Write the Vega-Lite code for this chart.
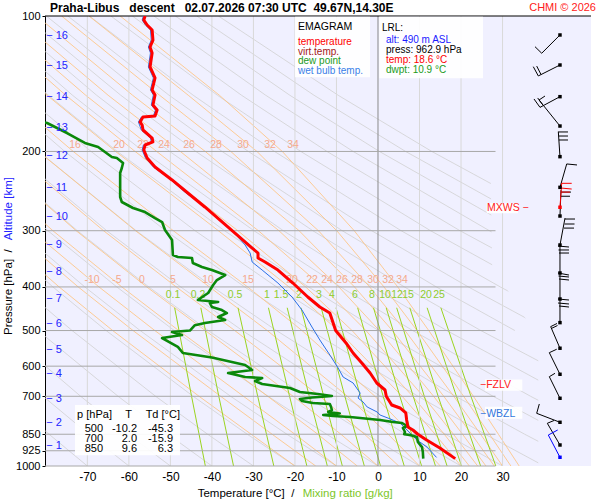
{
  "$schema": "https://vega.github.io/schema/vega-lite/v6.json",
  "width": 546,
  "height": 450,
  "autosize": {"type": "none"},
  "padding": {"left": 45, "top": 16, "right": 9, "bottom": 34},
  "background": "#ffffff",
  "config": {
    "view": {"fill": "#f0f0ff", "stroke": null},
    "font": "Liberation Sans",
    "text": {"font": "Liberation Sans"}
  },
  "encoding": {
    "x": {
      "field": "T", "type": "quantitative",
      "scale": {"domain": [-80.2, 51.3], "nice": false, "zero": false},
      "axis": {
        "values": [-70, -60, -50, -40, -30, -20, -10, 0, 10, 20, 30],
        "title": null, "grid": false, "domain": false, "ticks": false,
        "labelFontSize": 12, "labelPadding": 5, "labelFlush": false,
        "labelColor": "#000000", "labelFont": "Liberation Sans",
        "labelExpr": "datum.value < 0 ? '-' + abs(datum.value) : '' + datum.value"
      }
    },
    "y": {
      "field": "p", "type": "quantitative",
      "scale": {"type": "log", "domain": [100, 1000], "reverse": true, "nice": false},
      "axis": {
        "values": [100, 200, 300, 400, 500, 600, 700, 850, 925, 1000],
        "title": null, "grid": false, "format": "d",
        "domainColor": "#000000", "tickColor": "#000000", "tickSize": 3,
        "labelPadding": 2, "labelFontSize": 11, "labelColor": "#000000",
        "labelOverlap": false, "labelFont": "Liberation Sans"
      }
    }
  },
  "resolve": {"scale": {"color": "independent"}},
  "datasets": {
    "dry": [
      {"th":-70,"p":1000,"T":-70},{"th":-70,"p":850,"T":-79.22},{"th":-70,"p":700,"T":-89.69},
      {"th":-60,"p":1000,"T":-60},{"th":-60,"p":850,"T":-69.67},{"th":-60,"p":700,"T":-80.65},{"th":-60,"p":500,"T":-98.3},
      {"th":-50,"p":1000,"T":-50},{"th":-50,"p":850,"T":-60.13},{"th":-50,"p":700,"T":-71.62},{"th":-50,"p":500,"T":-90.09},
      {"th":-40,"p":1000,"T":-40},{"th":-40,"p":850,"T":-50.58},{"th":-40,"p":700,"T":-62.59},{"th":-40,"p":500,"T":-81.89},{"th":-40,"p":400,"T":-93.7},
      {"th":-30,"p":1000,"T":-30},{"th":-30,"p":850,"T":-41.03},{"th":-30,"p":700,"T":-53.56},{"th":-30,"p":500,"T":-73.68},{"th":-30,"p":400,"T":-86.0},
      {"th":-20,"p":1000,"T":-20},{"th":-20,"p":850,"T":-31.49},{"th":-20,"p":700,"T":-44.53},{"th":-20,"p":500,"T":-65.48},{"th":-20,"p":400,"T":-78.3},{"th":-20,"p":300,"T":-93.68},
      {"th":-10,"p":1000,"T":-10},{"th":-10,"p":850,"T":-21.94},{"th":-10,"p":700,"T":-35.5},{"th":-10,"p":500,"T":-57.28},{"th":-10,"p":400,"T":-70.61},{"th":-10,"p":300,"T":-86.6},
      {"th":0,"p":1000,"T":0},{"th":0,"p":850,"T":-12.39},{"th":0,"p":700,"T":-26.47},{"th":0,"p":500,"T":-49.07},{"th":0,"p":400,"T":-62.91},{"th":0,"p":300,"T":-79.51},{"th":0,"p":200,"T":-100.7},
      {"th":10,"p":1000,"T":10},{"th":10,"p":850,"T":-2.85},{"th":10,"p":700,"T":-17.43},{"th":10,"p":500,"T":-40.87},{"th":10,"p":400,"T":-55.21},{"th":10,"p":300,"T":-72.42},{"th":10,"p":200,"T":-94.37},
      {"th":20,"p":1000,"T":20},{"th":20,"p":850,"T":6.7},{"th":20,"p":700,"T":-8.4},{"th":20,"p":500,"T":-32.67},{"th":20,"p":400,"T":-47.51},{"th":20,"p":300,"T":-65.33},{"th":20,"p":200,"T":-88.06},
      {"th":30,"p":1000,"T":30},{"th":30,"p":850,"T":16.24},{"th":30,"p":700,"T":0.63},{"th":30,"p":500,"T":-24.46},{"th":30,"p":400,"T":-39.82},{"th":30,"p":300,"T":-58.24},{"th":30,"p":200,"T":-81.74},{"th":30,"p":150,"T":-96.84},
      {"th":40,"p":1000,"T":40},{"th":40,"p":850,"T":25.79},{"th":40,"p":700,"T":9.66},{"th":40,"p":500,"T":-16.26},{"th":40,"p":400,"T":-32.12},{"th":40,"p":300,"T":-51.15},{"th":40,"p":200,"T":-75.43},{"th":40,"p":150,"T":-91.03},
      {"th":50,"p":1000,"T":50},{"th":50,"p":850,"T":35.34},{"th":50,"p":700,"T":18.69},{"th":50,"p":500,"T":-8.05},{"th":50,"p":400,"T":-24.42},{"th":50,"p":300,"T":-44.06},{"th":50,"p":200,"T":-69.11},{"th":50,"p":150,"T":-85.21},
      {"th":60,"p":1000,"T":60},{"th":60,"p":850,"T":44.88},{"th":60,"p":700,"T":27.72},{"th":60,"p":500,"T":0.15},{"th":60,"p":400,"T":-16.73},{"th":60,"p":300,"T":-36.97},{"th":60,"p":200,"T":-62.8},{"th":60,"p":150,"T":-79.39},{"th":60,"p":100,"T":-100.6},
      {"th":70,"p":850,"T":54.43},{"th":70,"p":700,"T":36.75},{"th":70,"p":500,"T":8.35},{"th":70,"p":400,"T":-9.03},{"th":70,"p":300,"T":-29.88},{"th":70,"p":200,"T":-56.49},{"th":70,"p":150,"T":-73.58},{"th":70,"p":100,"T":-95.42},
      {"th":80,"p":700,"T":45.78},{"th":80,"p":500,"T":16.55},{"th":80,"p":400,"T":-1.33},{"th":80,"p":300,"T":-22.79},{"th":80,"p":200,"T":-50.18},{"th":80,"p":150,"T":-67.76},{"th":80,"p":100,"T":-90.24},
      {"th":90,"p":700,"T":54.81},{"th":90,"p":500,"T":24.76},{"th":90,"p":400,"T":6.36},{"th":90,"p":300,"T":-15.7},{"th":90,"p":200,"T":-43.86},{"th":90,"p":150,"T":-61.95},{"th":90,"p":100,"T":-85.06},
      {"th":100,"p":500,"T":32.96},{"th":100,"p":400,"T":14.06},{"th":100,"p":300,"T":-8.61},{"th":100,"p":200,"T":-37.55},{"th":100,"p":150,"T":-56.13},{"th":100,"p":100,"T":-79.88},
      {"th":110,"p":500,"T":41.17},{"th":110,"p":400,"T":21.76},{"th":110,"p":300,"T":-1.52},{"th":110,"p":200,"T":-31.23},{"th":110,"p":150,"T":-50.32},{"th":110,"p":100,"T":-74.7},
      {"th":120,"p":500,"T":49.37},{"th":120,"p":400,"T":29.45},{"th":120,"p":300,"T":5.57},{"th":120,"p":200,"T":-24.92},{"th":120,"p":150,"T":-44.5},{"th":120,"p":100,"T":-69.52},
      {"th":130,"p":400,"T":37.15},{"th":130,"p":300,"T":12.66},{"th":130,"p":200,"T":-18.6},{"th":130,"p":150,"T":-38.68},{"th":130,"p":100,"T":-64.34},
      {"th":140,"p":400,"T":44.85},{"th":140,"p":300,"T":19.75},{"th":140,"p":200,"T":-12.29},{"th":140,"p":150,"T":-32.87},{"th":140,"p":100,"T":-59.16},
      {"th":150,"p":400,"T":52.54},{"th":150,"p":300,"T":26.83},{"th":150,"p":200,"T":-5.98},{"th":150,"p":150,"T":-27.05},{"th":150,"p":100,"T":-53.98},
      {"th":160,"p":300,"T":33.92},{"th":160,"p":200,"T":0.34},{"th":160,"p":150,"T":-21.24},{"th":160,"p":100,"T":-48.8},
      {"th":170,"p":300,"T":41.01},{"th":170,"p":200,"T":6.65},{"th":170,"p":150,"T":-15.42},{"th":170,"p":100,"T":-43.62},
      {"th":180,"p":300,"T":48.1},{"th":180,"p":200,"T":12.96},{"th":180,"p":150,"T":-9.6},{"th":180,"p":100,"T":-38.44}
    ],
    "moist": [
      {"tw":34,"p":1000,"T":34},{"tw":34,"p":850,"T":29.0},{"tw":34,"p":700,"T":22.98},{"tw":34,"p":500,"T":12.22},{"tw":34,"p":400,"T":4.75},{"tw":34,"p":300,"T":-5.72},{"tw":34,"p":200,"T":-23.05},{"tw":34,"p":150,"T":-38.2},{"tw":34,"p":100,"T":-62.1},
      {"tw":32,"p":1000,"T":32},{"tw":32,"p":850,"T":26.86},{"tw":32,"p":700,"T":20.62},{"tw":32,"p":500,"T":9.4},{"tw":32,"p":400,"T":1.44},{"tw":32,"p":300,"T":-9.93},{"tw":32,"p":200,"T":-29.15},{"tw":32,"p":150,"T":-45.7},{"tw":32,"p":100,"T":-69.6},
      {"tw":30,"p":1000,"T":30},{"tw":30,"p":850,"T":24.7},{"tw":30,"p":700,"T":18.25},{"tw":30,"p":500,"T":6.51},{"tw":30,"p":400,"T":-2.0},{"tw":30,"p":300,"T":-14.35},{"tw":30,"p":200,"T":-35.45},{"tw":30,"p":150,"T":-52.6},{"tw":30,"p":100,"T":-76.2},
      {"tw":28,"p":1000,"T":28},{"tw":28,"p":850,"T":22.54},{"tw":28,"p":700,"T":15.84},{"tw":28,"p":500,"T":3.44},{"tw":28,"p":400,"T":-5.66},{"tw":28,"p":300,"T":-19.0},{"tw":28,"p":200,"T":-41.6},{"tw":28,"p":150,"T":-59.1},{"tw":28,"p":100,"T":-82.2},
      {"tw":26,"p":1000,"T":26},{"tw":26,"p":850,"T":20.36},{"tw":26,"p":700,"T":13.4},{"tw":26,"p":500,"T":0.32},{"tw":26,"p":400,"T":-9.42},{"tw":26,"p":300,"T":-23.85},{"tw":26,"p":200,"T":-47.6},{"tw":26,"p":150,"T":-65.0},{"tw":26,"p":100,"T":-87.6},
      {"tw":24,"p":1000,"T":24},{"tw":24,"p":850,"T":18.17},{"tw":24,"p":700,"T":10.9},{"tw":24,"p":500,"T":-2.9},{"tw":24,"p":400,"T":-13.36},{"tw":24,"p":300,"T":-28.8},{"tw":24,"p":200,"T":-53.3},{"tw":24,"p":150,"T":-70.4},{"tw":24,"p":100,"T":-92.5},
      {"tw":22,"p":1000,"T":22},{"tw":22,"p":850,"T":15.96},{"tw":22,"p":700,"T":8.34},{"tw":22,"p":500,"T":-6.25},{"tw":22,"p":400,"T":-17.42},{"tw":22,"p":300,"T":-33.75},{"tw":22,"p":200,"T":-58.5},{"tw":22,"p":150,"T":-75.2},{"tw":22,"p":100,"T":-97},
      {"tw":20,"p":1000,"T":20},{"tw":20,"p":850,"T":13.75},{"tw":20,"p":700,"T":5.82},{"tw":20,"p":500,"T":-9.62},{"tw":20,"p":400,"T":-21.42},{"tw":20,"p":300,"T":-38.45},{"tw":20,"p":200,"T":-63.2},{"tw":20,"p":150,"T":-79.7},{"tw":20,"p":100,"T":-101},
      {"tw":15,"p":1000,"T":15},{"tw":15,"p":850,"T":8.05},{"tw":15,"p":700,"T":-0.73},{"tw":15,"p":500,"T":-18.3},{"tw":15,"p":400,"T":-31.4},{"tw":15,"p":300,"T":-49.3},{"tw":15,"p":200,"T":-73.4},{"tw":15,"p":150,"T":-89.2},
      {"tw":10,"p":1000,"T":10},{"tw":10,"p":850,"T":2.45},{"tw":10,"p":700,"T":-7.37},{"tw":10,"p":500,"T":-26.67},{"tw":10,"p":400,"T":-40.6},{"tw":10,"p":300,"T":-58.4},{"tw":10,"p":200,"T":-81.8},
      {"tw":5,"p":1000,"T":5},{"tw":5,"p":850,"T":-3.24},{"tw":5,"p":700,"T":-14.0},{"tw":5,"p":500,"T":-34.5},{"tw":5,"p":400,"T":-48.6},{"tw":5,"p":300,"T":-66.1},{"tw":5,"p":200,"T":-88.7},
      {"tw":0,"p":1000,"T":0},{"tw":0,"p":850,"T":-8.93},{"tw":0,"p":700,"T":-20.44},{"tw":0,"p":500,"T":-41.6},{"tw":0,"p":400,"T":-55.7},{"tw":0,"p":300,"T":-72.7},{"tw":0,"p":200,"T":-94.6},
      {"tw":-5,"p":1000,"T":-5},{"tw":-5,"p":850,"T":-14.5},{"tw":-5,"p":700,"T":-26.55},{"tw":-5,"p":500,"T":-48.0},{"tw":-5,"p":400,"T":-61.7},{"tw":-5,"p":300,"T":-78.3},{"tw":-5,"p":200,"T":-99.6},
      {"tw":-10,"p":1000,"T":-10},{"tw":-10,"p":850,"T":-20.0},{"tw":-10,"p":700,"T":-32.4},{"tw":-10,"p":500,"T":-53.75},{"tw":-10,"p":400,"T":-67.2},{"tw":-10,"p":300,"T":-83.4},
      {"tw":-15,"p":1000,"T":-15},{"tw":-15,"p":850,"T":-25.5},{"tw":-15,"p":700,"T":-37.9},{"tw":-15,"p":500,"T":-59.0},{"tw":-15,"p":400,"T":-72.2},{"tw":-15,"p":300,"T":-88},
      {"tw":-20,"p":1000,"T":-20},{"tw":-20,"p":850,"T":-30.55},{"tw":-20,"p":700,"T":-43.1},{"tw":-20,"p":500,"T":-63.9},{"tw":-20,"p":400,"T":-76.8},{"tw":-20,"p":300,"T":-92.3}
    ],
    "mix": [
      {"w":0.1,"p":1000,"T":-41.58},{"w":0.1,"p":700,"T":-44.9},{"w":0.1,"p":445,"T":-48.97},
      {"w":0.2,"p":1000,"T":-34.79},{"w":0.2,"p":700,"T":-38.34},{"w":0.2,"p":445,"T":-42.67},
      {"w":0.5,"p":1000,"T":-25.09},{"w":0.5,"p":700,"T":-28.97},{"w":0.5,"p":445,"T":-33.71},
      {"w":1,"p":1000,"T":-17.13},{"w":1,"p":700,"T":-21.3},{"w":1,"p":445,"T":-26.38},
      {"w":1.5,"p":1000,"T":-12.2},{"w":1.5,"p":700,"T":-16.56},{"w":1.5,"p":445,"T":-21.87},
      {"w":2,"p":1000,"T":-8.58},{"w":2,"p":700,"T":-13.07},{"w":2,"p":445,"T":-18.55},
      {"w":3,"p":1000,"T":-3.29},{"w":3,"p":700,"T":-7.98},{"w":3,"p":445,"T":-13.68},
      {"w":4,"p":1000,"T":0.61},{"w":4,"p":700,"T":-4.23},{"w":4,"p":445,"T":-10.11},
      {"w":6,"p":1000,"T":6.32},{"w":6,"p":700,"T":1.25},{"w":6,"p":445,"T":-4.9},
      {"w":8,"p":1000,"T":10.51},{"w":8,"p":700,"T":5.27},{"w":8,"p":445,"T":-1.08},
      {"w":10,"p":1000,"T":13.85},{"w":10,"p":700,"T":8.48},{"w":10,"p":445,"T":1.97},
      {"w":12,"p":1000,"T":16.64},{"w":12,"p":700,"T":11.15},{"w":12,"p":445,"T":4.5},
      {"w":15,"p":1000,"T":20.12},{"w":15,"p":700,"T":14.49},{"w":15,"p":445,"T":7.66},
      {"w":20,"p":1000,"T":24.72},{"w":20,"p":700,"T":18.89},{"w":20,"p":445,"T":11.83},
      {"w":25,"p":1000,"T":28.37},{"w":25,"p":700,"T":22.38},{"w":25,"p":445,"T":15.14}
    ],
    "mask": [
      {"p":100,"T":26.5},{"p":360,"T":27.5},{"p":520,"T":38.6},{"p":1000,"T":38.6}
    ],
    "isotherms": [
      {"T":-70,"p":100},{"T":-70,"p":1000},{"T":-60,"p":100},{"T":-60,"p":1000},
      {"T":-50,"p":100},{"T":-50,"p":1000},{"T":-40,"p":100},{"T":-40,"p":1000},
      {"T":-30,"p":100},{"T":-30,"p":1000},{"T":-20,"p":100},{"T":-20,"p":1000},
      {"T":-10,"p":100},{"T":-10,"p":1000},{"T":10,"p":100},{"T":10,"p":1000},
      {"T":20,"p":100},{"T":20,"p":1000},{"T":30,"p":100},{"T":30,"p":1000}
    ],
    "zeroline": [
      {"T":0,"p":100},{"T":0,"p":1000}
    ],
    "isobars": [
      {"p":200,"T":-80.2},{"p":200,"T":28.3},{"p":300,"T":-80.2},{"p":300,"T":28.3},
      {"p":400,"T":-80.2},{"p":400,"T":28.3},{"p":500,"T":-80.2},{"p":500,"T":28.3},
      {"p":600,"T":-80.2},{"p":600,"T":28.3},{"p":700,"T":-80.2},{"p":700,"T":28.3},
      {"p":850,"T":-80.2},{"p":850,"T":28.3},{"p":925,"T":-80.2},{"p":925,"T":28.3},
      {"p":1000,"T":-80.2},{"p":1000,"T":28.3}
    ],
    "topline": [
      {"p":100,"T":-80.2},{"p":100,"T":51.3}
    ],
    "moistLab": [
      {"lab":"16","p":193.5,"T":-72.98},{"lab":"20","p":193.5,"T":-62.38},{"lab":"22","p":193.5,"T":-56.6},
      {"lab":"24","p":193.5,"T":-51.54},{"lab":"26","p":193.5,"T":-45.52},{"lab":"28","p":193.5,"T":-39.02},
      {"lab":"30","p":193.5,"T":-32.51},{"lab":"32","p":193.5,"T":-26.01},{"lab":"34","p":193.5,"T":-20.47},
      {"lab":"-10","p":386.1,"T":-68.88},{"lab":"-5","p":386.1,"T":-62.86},{"lab":"0","p":386.1,"T":-56.84},
      {"lab":"5","p":386.1,"T":-49.37},{"lab":"10","p":386.1,"T":-40.94},{"lab":"15","p":386.1,"T":-31.31},
      {"lab":"20","p":386.1,"T":-20.71},{"lab":"22","p":386.1,"T":-15.9},{"lab":"24","p":386.1,"T":-12.28},
      {"lab":"26","p":386.1,"T":-8.67},{"lab":"28","p":386.1,"T":-5.06},{"lab":"30","p":386.1,"T":-1.2},
      {"lab":"32","p":386.1,"T":2.41},{"lab":"34","p":386.1,"T":5.78}
    ],
    "mixLab": [
      {"lab":"0.1","p":417,"T":-49.37},{"lab":"0.2","p":417,"T":-43.35},{"lab":"0.5","p":417,"T":-34.44},
      {"lab":"1","p":417,"T":-26.73},{"lab":"1.5","p":417,"T":-23.36},{"lab":"2","p":417,"T":-19.03},
      {"lab":"3","p":417,"T":-14.21},{"lab":"4","p":417,"T":-11.08},{"lab":"6","p":417,"T":-5.54},
      {"lab":"8","p":417,"T":-1.45},{"lab":"10","p":417,"T":1.69},{"lab":"12","p":417,"T":4.58},
      {"lab":"15","p":417,"T":7.23},{"lab":"20","p":417,"T":11.56},{"lab":"25","p":417,"T":14.69}
    ],
    "boxes": [
      {"box":"emagram","T":-19.99,"T2":-1.93,"p":100.4,"p2":136.8},
      {"box":"lrl","T":0.3,"T2":25.3,"p":100.4,"p2":137.5},
      {"box":"table","T":-72.98,"T2":-47.69,"p":731.8,"p2":946.3},
      {"box":"fzlv","T":25.77,"T2":34.75,"p":642.7,"p2":680.3},
      {"box":"wbzl","T":25.77,"T2":34.75,"p":738.3,"p2":785.2},
      {"box":"mxws","T":26.18,"T2":33.72,"p":260.8,"p2":274.4}
    ],
    "temp": [
      {"p":962.9,"T":18.6},{"p":912.0,"T":14.9},{"p":875.5,"T":11.7},{"p":850,"T":9.6},{"p":831.8,"T":8.4},
      {"p":819.2,"T":7.2},{"p":790.3,"T":6.9},{"p":762.4,"T":6.7},{"p":743.1,"T":5.3},{"p":731.8,"T":3.3},
      {"p":700,"T":2.0},{"p":677.8,"T":1.7},{"p":653.9,"T":-0.3},{"p":621.3,"T":-1.9},{"p":590.3,"T":-3.9},
      {"p":560.9,"T":-6.0},{"p":532.8,"T":-7.7},{"p":500,"T":-10.2},{"p":457.1,"T":-11.6},{"p":443.3,"T":-14.0},
      {"p":421.2,"T":-16.9},{"p":392.1,"T":-20.5},{"p":366.9,"T":-24.1},{"p":352.2,"T":-27.2},{"p":345.0,"T":-28.9},
      {"p":336.3,"T":-28.9},{"p":327.9,"T":-30.3},{"p":294.4,"T":-36.1},{"p":265.7,"T":-41.7},{"p":247.4,"T":-45.8},
      {"p":231.4,"T":-49.6},{"p":216.5,"T":-53.7},{"p":206.8,"T":-55.6},{"p":198.5,"T":-56.4},{"p":193.5,"T":-56.1},
      {"p":190.5,"T":-54.2},{"p":186.7,"T":-54.4},{"p":179.2,"T":-56.6},{"p":174.7,"T":-56.8},{"p":172.0,"T":-57.3},
      {"p":167.7,"T":-56.6},{"p":166.8,"T":-53.7},{"p":161.8,"T":-53.2},{"p":157.7,"T":-54.2},{"p":149.8,"T":-53.7},
      {"p":146.0,"T":-54.4},{"p":137.3,"T":-53.7},{"p":129.8,"T":-54.9},{"p":120.8,"T":-54.4},{"p":117.2,"T":-54.9},
      {"p":113.1,"T":-54.2},{"p":107.4,"T":-54.4},{"p":104.7,"T":-55.6},{"p":102.1,"T":-56.4},{"p":100,"T":-56.1}
    ],
    "wet": [
      {"p":957,"T":14.1},{"p":907.8,"T":11.8},{"p":875.5,"T":9.4},{"p":844.9,"T":7.7},{"p":802.5,"T":5.3},
      {"p":782.4,"T":2.4},{"p":770.4,"T":0.5},{"p":758.6,"T":-0.2},{"p":739.4,"T":-2.6},{"p":720.7,"T":-3.6},
      {"p":706.3,"T":-4.8},{"p":688.3,"T":-4.3},{"p":653.9,"T":-6.0},{"p":634.2,"T":-8.4},{"p":605.6,"T":-9.6},
      {"p":566.7,"T":-11.6},{"p":524.8,"T":-14.0},{"p":491.1,"T":-15.9},{"p":450.3,"T":-18.3},{"p":421.2,"T":-20.7},
      {"p":392.1,"T":-24.1},{"p":366.9,"T":-27.9},{"p":352.2,"T":-30.3},{"p":336.3,"T":-30.8},{"p":322.8,"T":-32.0},
      {"p":299.0,"T":-35.2},{"p":281.2,"T":-38.5},{"p":263.0,"T":-42.4},{"p":246.2,"T":-46.5},{"p":230.3,"T":-50.1},
      {"p":216.5,"T":-54.1},{"p":206.8,"T":-56.0},{"p":198.5,"T":-56.8},{"p":193.5,"T":-56.5},{"p":190.5,"T":-54.6},
      {"p":186.7,"T":-54.8},{"p":179.2,"T":-57.0},{"p":172.0,"T":-57.7},{"p":167.7,"T":-57.0},{"p":166.8,"T":-54.1},
      {"p":161.8,"T":-53.6},{"p":157.7,"T":-54.6},{"p":149.8,"T":-54.1},{"p":146.0,"T":-54.8},{"p":137.3,"T":-54.1},
      {"p":129.8,"T":-55.3},{"p":120.8,"T":-54.8},{"p":117.2,"T":-55.3},{"p":113.1,"T":-54.6},{"p":107.4,"T":-54.8},
      {"p":104.7,"T":-56.0},{"p":102.1,"T":-56.8},{"p":100,"T":-56.5}
    ],
    "dew": [
      {"p":962.9,"T":10.9},{"p":930.8,"T":10.8},{"p":907.8,"T":10.6},{"p":884.5,"T":9.6},{"p":862.3,"T":9.4},
      {"p":853.4,"T":7.7},{"p":850,"T":6.3},{"p":840.3,"T":6.5},{"p":823.3,"T":6.0},{"p":814.9,"T":7.0},
      {"p":802.5,"T":5.8},{"p":798.4,"T":3.6},{"p":790.3,"T":0.5},{"p":784.4,"T":-3.1},{"p":778.4,"T":-6.7},
      {"p":774.4,"T":-10.8},{"p":770.4,"T":-13.2},{"p":764.5,"T":-9.2},{"p":758.6,"T":-12.0},{"p":751.0,"T":-11.1},
      {"p":739.4,"T":-11.3},{"p":728.1,"T":-11.6},{"p":724.4,"T":-15.7},{"p":717.1,"T":-18.3},{"p":709.8,"T":-18.8},
      {"p":704.4,"T":-15.9},{"p":699.0,"T":-11.1},{"p":691.8,"T":-14.5},{"p":684.8,"T":-18.8},{"p":670.9,"T":-21.2},
      {"p":657.2,"T":-27.9},{"p":647.3,"T":-29.6},{"p":637.4,"T":-27.9},{"p":634.2,"T":-32.0},{"p":621.3,"T":-36.1},
      {"p":611.9,"T":-30.3},{"p":596.5,"T":-32.0},{"p":574.0,"T":-40.0},{"p":560.9,"T":-47.0},{"p":543.8,"T":-48.2},
      {"p":519.6,"T":-52.0},{"p":511.6,"T":-47.2},{"p":503.8,"T":-49.6},{"p":500,"T":-45.3},{"p":486.5,"T":-44.1},
      {"p":481.0,"T":-41.7},{"p":473.7,"T":-36.8},{"p":466.5,"T":-38.5},{"p":457.1,"T":-36.4},{"p":450.3,"T":-37.6},
      {"p":443.3,"T":-40.0},{"p":434.3,"T":-40.5},{"p":432.1,"T":-38.5},{"p":427.7,"T":-43.4},{"p":412.6,"T":-40.9},
      {"p":396.1,"T":-39.7},{"p":386.1,"T":-38.8},{"p":376.4,"T":-36.8},{"p":366.9,"T":-40.0},{"p":361.3,"T":-42.4},
      {"p":353.9,"T":-44.6},{"p":345.0,"T":-44.8},{"p":343.2,"T":-48.2},{"p":339.8,"T":-49.4},{"p":314.7,"T":-49.6},
      {"p":299.0,"T":-51.3},{"p":287.0,"T":-52.0},{"p":281.2,"T":-53.7},{"p":272.7,"T":-56.1},{"p":267.1,"T":-59.0},
      {"p":259.0,"T":-61.7},{"p":252.5,"T":-62.1},{"p":237.5,"T":-62.1},{"p":223.3,"T":-62.1},{"p":217.7,"T":-61.7},
      {"p":212.1,"T":-61.4},{"p":206.8,"T":-62.9},{"p":205.7,"T":-64.1},{"p":195.5,"T":-67.4},{"p":191.5,"T":-70.6},
      {"p":182.0,"T":-74.9},{"p":172.9,"T":-79.7},{"p":170.5,"T":-82.6}
    ],
    "alt": [
      {"txt":"− 1","p":902.7,"T":-79.9},{"txt":"− 2","p":802.6,"T":-79.9},{"txt":"− 3","p":710,"T":-79.9},
      {"txt":"− 4","p":624.6,"T":-79.9},{"txt":"− 5","p":552.4,"T":-79.9},{"txt":"− 6","p":483.6,"T":-79.9},
      {"txt":"− 7","p":425.5,"T":-79.9},{"txt":"− 8","p":370.6,"T":-79.9},{"txt":"− 9","p":322.8,"T":-79.9},
      {"txt":"− 10","p":279.7,"T":-79.9},{"txt":"− 11","p":241,"T":-79.9},{"txt":"− 12","p":205,"T":-79.9},
      {"txt":"− 13","p":177,"T":-79.9},{"txt":"− 14","p":151.6,"T":-79.9},{"txt":"− 15","p":129.3,"T":-79.9},
      {"txt":"− 16","p":110.8,"T":-79.9}
    ],
    "barbs": [
      {"T":43.83,"p":110.2,"T2":39.43,"p2":121.0,"s":"wind"},
      {"T":39.43,"p":121.0,"T2":37.81,"p2":117.0,"s":"wind"},
      {"T":43.83,"p":128.5,"T2":38.61,"p2":135.9,"s":"wind"},
      {"T":38.61,"p":135.9,"T2":37.40,"p2":129.6,"s":"wind"},
      {"T":39.26,"p":134.9,"T2":38.22,"p2":129.2,"s":"wind"},
      {"T":43.83,"p":151.1,"T2":39.02,"p2":159.6,"s":"wind"},
      {"T":39.02,"p":159.6,"T2":37.57,"p2":152.9,"s":"wind"},
      {"T":39.81,"p":158.1,"T2":38.46,"p2":152.1,"s":"wind"},
      {"T":43.83,"p":175.6,"T2":38.78,"p2":153.7,"s":"wind"},
      {"T":38.78,"p":153.7,"T2":40.22,"p2":150.6,"s":"wind"},
      {"T":43.83,"p":205.4,"T2":43.43,"p2":180.7,"s":"wind"},
      {"T":43.43,"p":181.0,"T2":45.76,"p2":181.0,"s":"wind"},
      {"T":43.5,"p":184.8,"T2":45.76,"p2":184.8,"s":"wind"},
      {"T":43.57,"p":188.6,"T2":45.76,"p2":188.6,"s":"wind"},
      {"T":43.83,"p":240.3,"T2":45.45,"p2":213.2,"s":"wind"},
      {"T":45.45,"p":213.2,"T2":47.93,"p2":214.3,"s":"wind"},
      {"T":43.83,"p":278.3,"T2":44.07,"p2":243.7,"s":"wind"},
      {"T":44.07,"p":246.2,"T2":46.48,"p2":246.2,"s":"wind"},
      {"T":44.0,"p":251.5,"T2":46.24,"p2":251.5,"s":"wind"},
      {"T":43.83,"p":266.1,"T2":44.24,"p2":235.4,"s":"max"},
      {"T":44.24,"p":235.4,"T2":46.65,"p2":235.4,"s":"max"},
      {"T":44.17,"p":241.2,"T2":46.65,"p2":242.4,"s":"max"},
      {"T":44.12,"p":246.2,"T2":46.24,"p2":246.2,"s":"max"},
      {"T":43.83,"p":322.8,"T2":45.04,"p2":281.2,"s":"wind"},
      {"T":45.04,"p":282.6,"T2":47.45,"p2":282.6,"s":"wind"},
      {"T":44.92,"p":289.9,"T2":47.33,"p2":289.9,"s":"wind"},
      {"T":44.8,"p":296.0,"T2":47.21,"p2":296.0,"s":"wind"},
      {"T":43.83,"p":372.5,"T2":43.83,"p2":322.8,"s":"wind"},
      {"T":43.35,"p":324.5,"T2":46.0,"p2":326.1,"s":"wind"},
      {"T":43.47,"p":331.1,"T2":46.0,"p2":331.1,"s":"wind"},
      {"T":43.59,"p":336.3,"T2":46.0,"p2":336.3,"s":"wind"},
      {"T":43.83,"p":425.5,"T2":43.83,"p2":372.5,"s":"wind"},
      {"T":43.35,"p":372.5,"T2":46.0,"p2":376.4,"s":"wind"},
      {"T":43.47,"p":378.3,"T2":46.0,"p2":380.2,"s":"wind"},
      {"T":43.59,"p":384.1,"T2":46.0,"p2":386.1,"s":"wind"},
      {"T":43.83,"p":480.2,"T2":43.83,"p2":425.5,"s":"wind"},
      {"T":43.35,"p":425.5,"T2":46.0,"p2":427.7,"s":"wind"},
      {"T":43.35,"p":434.3,"T2":46.0,"p2":436.5,"s":"wind"},
      {"T":43.59,"p":441.0,"T2":46.0,"p2":443.3,"s":"wind"},
      {"T":43.83,"p":547.4,"T2":41.59,"p2":490.1,"s":"wind"},
      {"T":41.59,"p":490.1,"T2":43.11,"p2":482.3,"s":"wind"},
      {"T":41.79,"p":494.6,"T2":43.23,"p2":487.3,"s":"wind"},
      {"T":43.83,"p":625.4,"T2":41.26,"p2":560.0,"s":"wind"},
      {"T":41.26,"p":560.0,"T2":43.04,"p2":550.2,"s":"wind"},
      {"T":43.83,"p":707.2,"T2":41.26,"p2":633.2,"s":"wind"},
      {"T":41.26,"p":633.2,"T2":42.63,"p2":622.3,"s":"wind"},
      {"T":43.83,"p":799.6,"T2":38.22,"p2":763.7,"s":"wind"},
      {"T":38.22,"p":763.7,"T2":38.85,"p2":728.1,"s":"wind"},
      {"T":43.83,"p":898.1,"T2":40.78,"p2":803.7,"s":"wind"},
      {"T":40.78,"p":803.7,"T2":42.39,"p2":792.3,"s":"wind"},
      {"T":43.83,"p":956.4,"T2":41.02,"p2":853.4,"s":"sfc"},
      {"T":41.02,"p":853.4,"T2":43.28,"p2":831.8,"s":"sfc"}
    ],
    "dots": [
      {"T":43.83,"p":110.2,"s":"wind"},{"T":43.83,"p":128.5,"s":"wind"},{"T":43.83,"p":151.1,"s":"wind"},
      {"T":43.83,"p":175.6,"s":"wind"},{"T":43.83,"p":205.4,"s":"wind"},{"T":43.83,"p":240.3,"s":"wind"},
      {"T":43.83,"p":278.3,"s":"wind"},{"T":43.83,"p":266.1,"s":"max"},{"T":43.83,"p":322.8,"s":"wind"},
      {"T":43.83,"p":372.5,"s":"wind"},{"T":43.83,"p":425.5,"s":"wind"},{"T":43.83,"p":480.2,"s":"wind"},
      {"T":43.83,"p":547.4,"s":"wind"},{"T":43.83,"p":625.4,"s":"wind"},{"T":43.83,"p":707.2,"s":"wind"},
      {"T":43.83,"p":799.6,"s":"wind"},{"T":43.83,"p":898.1,"s":"wind"},{"T":43.83,"p":956.4,"s":"sfc"}
    ],
    "legend": [
      {"txt":"temperature","T":-19.27,"p":116.0,"s":"temp"},
      {"txt":"virt.temp.","T":-19.27,"p":122.1,"s":"virt"},
      {"txt":"dew point","T":-19.27,"p":128.0,"s":"dew"},
      {"txt":"wet bulb temp.","T":-19.27,"p":134.5,"s":"wet"},
      {"txt":"LRL:","T":0.96,"p":107.8,"s":"info"},
      {"txt":"alt: 490 m ASL","T":1.93,"p":115.0,"s":"alt"},
      {"txt":"press: 962.9 hPa","T":1.93,"p":121.0,"s":"info"},
      {"txt":"temp: 18.6 °C","T":1.93,"p":127.4,"s":"temp"},
      {"txt":"dwpt: 10.9 °C","T":1.93,"p":133.6,"s":"dew"}
    ],
    "heading": [
      {"txt":"EMAGRAM","T":-19.27,"p":107.4}
    ],
    "table": [
      {"txt":"p [hPa]","T":-64.07,"p":782.0},{"txt":"T","T":-59.25,"p":782.0},{"txt":"Td [°C]","T":-47.69,"p":782.0},
      {"txt":"500","T":-66.23,"p":838.8},{"txt":"-10.2","T":-58.04,"p":838.8},{"txt":"-45.3","T":-49.37,"p":838.8},
      {"txt":"700","T":-66.23,"p":883.1},{"txt":"2.0","T":-58.04,"p":883.1},{"txt":"-15.9","T":-49.37,"p":883.1},
      {"txt":"850","T":-66.23,"p":932.3},{"txt":"9.6","T":-58.04,"p":932.3},{"txt":"6.3","T":-49.37,"p":932.3}
    ],
    "levels": [
      {"txt":"−FZLV","T":24.57,"p":660.2,"s":"fz"},
      {"txt":"−WBZL","T":24.57,"p":766.3,"s":"wb"},
      {"txt":"MXWS −","T":26.25,"p":267.1,"s":"fz"}
    ],
    "title": [
      {"txt":"Praha-Libus\u00a0\u00a0 descent\u00a0\u00a0 02.07.2026 07:30 UTC\u00a0 49.67N,14.30E","T":-79.0,"p":97.82}
    ],
    "credit": [
      {"txt":"CHMI © 2026","T":52.5,"p":97.6}
    ],
    "xtitle": [
      {"txt":"Temperature [°C]\u00a0 /","T":-43.42,"p":1170.3,"s":"info"},
      {"txt":"Mixing ratio [g/kg]","T":-18.14,"p":1170.3,"s":"mix"}
    ],
    "ytitleA": [
      {"txt":"Pressure [hPa]\u00a0 /","T":-88.87,"p":511.4}
    ],
    "ytitleB": [
      {"txt":"Altitude [km]","T":-88.87,"p":228.0}
    ]
  },
  "layer": [
    {
      "data": {"name": "dry"},
      "mark": {"type": "line", "clip": true, "color": "#d0d0d0", "strokeWidth": 0.8},
      "encoding": {"detail": {"field": "th"}, "order": {"field": "p", "type": "quantitative", "sort": "descending"}}
    },
    {
      "data": {"name": "moist"},
      "mark": {"type": "line", "clip": true, "color": "#ffc27a", "strokeWidth": 0.8},
      "encoding": {"detail": {"field": "tw"}, "order": {"field": "p", "type": "quantitative", "sort": "descending"}}
    },
    {
      "data": {"name": "mix"},
      "mark": {"type": "line", "clip": true, "color": "#9bd420", "strokeWidth": 1},
      "encoding": {"detail": {"field": "w"}, "order": {"field": "p", "type": "quantitative", "sort": "descending"}}
    },
    {
      "data": {"name": "mask"},
      "mark": {"type": "area", "orient": "horizontal", "clip": true, "color": "#f0f0ff"},
      "encoding": {"x2": {"datum": 51.3}}
    },
    {
      "data": {"name": "isotherms"},
      "mark": {"type": "line", "color": "#d9d9d9", "strokeWidth": 1},
      "encoding": {"detail": {"field": "T"}, "order": {"field": "p", "type": "quantitative", "sort": "descending"}}
    },
    {
      "data": {"name": "zeroline"},
      "mark": {"type": "line", "color": "#8a8a8a", "strokeWidth": 1},
      "encoding": {"order": {"field": "p", "type": "quantitative", "sort": "descending"}}
    },
    {
      "data": {"name": "isobars"},
      "mark": {"type": "line", "color": "#a8a8a8", "strokeWidth": 1},
      "encoding": {"detail": {"field": "p"}}
    },
    {
      "data": {"name": "topline"},
      "mark": {"type": "line", "color": "#000000", "strokeWidth": 1},
      "encoding": {}
    },
    {
      "data": {"name": "moistLab"},
      "mark": {"type": "text", "color": "#f5a98c", "fontSize": 10.5, "align": "center", "baseline": "middle"},
      "encoding": {"text": {"field": "lab"}}
    },
    {
      "data": {"name": "mixLab"},
      "mark": {"type": "text", "color": "#8fcc2e", "fontSize": 10.5, "align": "center", "baseline": "middle"},
      "encoding": {"text": {"field": "lab"}}
    },
    {
      "data": {"name": "boxes"},
      "mark": {"type": "rect", "color": "#ffffff", "opacity": 0.92},
      "encoding": {"x2": {"field": "T2"}, "y2": {"field": "p2"}}
    },
    {
      "data": {"name": "wet"},
      "mark": {"type": "line", "clip": true, "color": "#2a6fe6", "strokeWidth": 1},
      "encoding": {"order": {"field": "p", "type": "quantitative", "sort": "descending"}}
    },
    {
      "data": {"name": "dew"},
      "mark": {"type": "line", "clip": true, "color": "#0a880a", "strokeWidth": 2.6, "strokeJoin": "round"},
      "encoding": {"order": {"field": "p", "type": "quantitative", "sort": "descending"}}
    },
    {
      "data": {"name": "temp"},
      "mark": {"type": "line", "clip": true, "color": "#ff0000", "strokeWidth": 3, "strokeJoin": "round"},
      "encoding": {"order": {"field": "p", "type": "quantitative", "sort": "descending"}}
    },
    {
      "data": {"name": "heading"},
      "mark": {"type": "text", "color": "#000000", "fontSize": 10.5, "align": "left", "baseline": "alphabetic"},
      "encoding": {"text": {"field": "txt"}}
    },
    {
      "data": {"name": "legend"},
      "mark": {"type": "text", "fontSize": 10, "align": "left", "baseline": "alphabetic"},
      "encoding": {
        "text": {"field": "txt"},
        "color": {
          "field": "s", "type": "nominal", "legend": null,
          "scale": {"domain": ["temp", "virt", "dew", "wet", "info", "alt"], "range": ["#ff0000", "#a31818", "#1a9a1a", "#3a80e8", "#000000", "#1a1aff"]}
        }
      }
    },
    {
      "data": {"name": "table"},
      "mark": {"type": "text", "color": "#000000", "fontSize": 11, "align": "right", "baseline": "alphabetic"},
      "encoding": {"text": {"field": "txt"}}
    },
    {
      "data": {"name": "levels"},
      "mark": {"type": "text", "fontSize": 10.5, "align": "left", "baseline": "middle"},
      "encoding": {
        "text": {"field": "txt"},
        "color": {
          "field": "s", "type": "nominal", "legend": null,
          "scale": {"domain": ["fz", "wb"], "range": ["#ff2020", "#3377dd"]}
        }
      }
    },
    {
      "data": {"name": "barbs"},
      "mark": {"type": "rule", "strokeWidth": 1},
      "encoding": {
        "x2": {"field": "T2"},
        "y2": {"field": "p2"},
        "color": {
          "field": "s", "type": "nominal", "legend": null,
          "scale": {"domain": ["wind", "max", "sfc"], "range": ["#000000", "#ff0000", "#0000ff"]}
        }
      }
    },
    {
      "data": {"name": "dots"},
      "mark": {"type": "point", "shape": "square", "filled": true, "size": 12, "opacity": 1},
      "encoding": {
        "color": {
          "field": "s", "type": "nominal", "legend": null,
          "scale": {"domain": ["wind", "max", "sfc"], "range": ["#000000", "#ff0000", "#0000ff"]}
        }
      }
    },
    {
      "data": {"name": "alt"},
      "mark": {"type": "text", "color": "#2424ff", "fontSize": 11, "align": "left", "baseline": "middle"},
      "encoding": {"text": {"field": "txt"}}
    },
    {
      "data": {"name": "title"},
      "mark": {"type": "text", "color": "#000000", "fontSize": 12, "fontWeight": "bold", "align": "left", "baseline": "alphabetic"},
      "encoding": {"text": {"field": "txt"}}
    },
    {
      "data": {"name": "credit"},
      "mark": {"type": "text", "color": "#ff2020", "fontSize": 11, "align": "right", "baseline": "alphabetic"},
      "encoding": {"text": {"field": "txt"}}
    },
    {
      "data": {"name": "xtitle"},
      "mark": {"type": "text", "fontSize": 11.5, "align": "left", "baseline": "alphabetic"},
      "encoding": {
        "text": {"field": "txt"},
        "color": {
          "field": "s", "type": "nominal", "legend": null,
          "scale": {"domain": ["info", "mix"], "range": ["#000000", "#7dc62a"]}
        }
      }
    },
    {
      "data": {"name": "ytitleA"},
      "mark": {"type": "text", "color": "#000000", "fontSize": 11.5, "angle": 270, "align": "left", "baseline": "middle"},
      "encoding": {"text": {"field": "txt"}}
    },
    {
      "data": {"name": "ytitleB"},
      "mark": {"type": "text", "color": "#2424ff", "fontSize": 11.5, "angle": 270, "align": "right", "baseline": "middle"},
      "encoding": {"text": {"field": "txt"}}
    }
  ]
}
